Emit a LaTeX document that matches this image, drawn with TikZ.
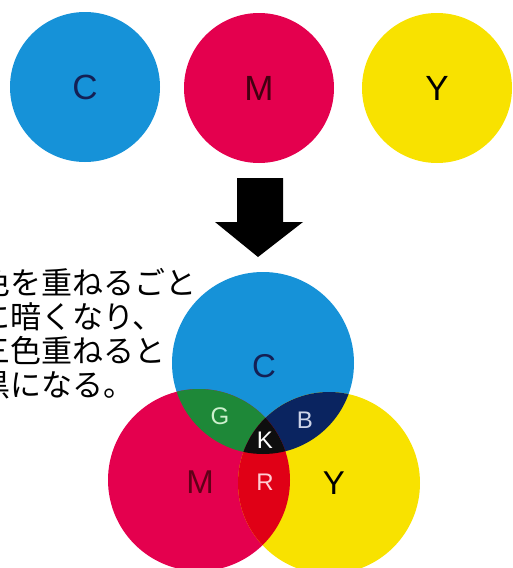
\documentclass[tikz,border=0pt]{standalone}
\usepackage{fontspec}
\setmainfont{Liberation Sans}
\newfontfamily\jpfont{Noto Sans CJK JP}
\definecolor{cyanC}{RGB}{22,146,216}
\definecolor{magC}{RGB}{228,0,78}
\definecolor{yelC}{RGB}{248,226,0}
\definecolor{grnC}{RGB}{30,136,56}
\definecolor{navC}{RGB}{10,36,96}
\definecolor{redC}{RGB}{224,0,22}
\definecolor{blkC}{RGB}{14,14,14}
\definecolor{cTxt}{RGB}{20,32,84}
\definecolor{mTxt}{RGB}{96,0,24}
\definecolor{gTxt}{RGB}{205,240,205}
\definecolor{bTxt}{RGB}{205,212,232}
\definecolor{rTxt}{RGB}{255,205,210}
\begin{document}
\begin{tikzpicture}[x=1pt,y=-1pt,
  disc/.style={circle,inner sep=0pt,minimum size=150pt},
  vdisc/.style={circle,inner sep=0pt,minimum size=182pt},
  biglbl/.style={font=\fontsize{35}{35}\selectfont},
  vlbl/.style={inner sep=0pt,font=\fontsize{33}{33}\selectfont},
  smlbl/.style={inner sep=0pt,font=\fontsize{24}{24}\selectfont},
  jpline/.style={anchor=base west,inner sep=0pt,font=\jpfont\fontsize{31}{31}\selectfont}]
\useasboundingbox (0,0) rectangle (512,568);
\clip (0,0) rectangle (512,568);
% top circles
\node[disc,fill=cyanC,biglbl,text=cTxt] (tc) at (85,87) {C};
\node[disc,fill=magC,biglbl,text=mTxt!70!black] (tm) at (259,88) {M};
\node[disc,fill=yelC,biglbl,text=black] (ty) at (437,88) {Y};
% arrow
\fill[black] (237,178) -- (283,178) -- (283,222) -- (303,222) -- (258,257)
  -- (215,222) -- (237,222) -- cycle;
% text
\node[jpline] (t1) at (-21,294) {色を重ねるごと};
\node[jpline] (t2) at (-21,328) {に暗くなり、};
\node[jpline] (t3) at (-21,362) {三色重ねると};
\node[jpline] (t4) at (-21,396) {黒になる。};
% venn circles
\node[vdisc,fill=cyanC] (vc) at (263,363) {};
\node[vdisc,fill=magC] (vm) at (199,480) {};
\node[vdisc,fill=yelC] (vy) at (329,483) {};
\begin{scope}
  \clip (vc.center) circle [radius=91pt];
  \fill[grnC] (vm.center) circle [radius=91pt];
  \fill[navC] (vy.center) circle [radius=91pt];
\end{scope}
\begin{scope}
  \clip (vm.center) circle [radius=91pt];
  \fill[redC] (vy.center) circle [radius=91pt];
  \clip (vy.center) circle [radius=91pt];
  \fill[blkC] (vc.center) circle [radius=91pt];
\end{scope}
% labels
\node[vlbl,text=cTxt] (lc) at (264,366) {C};
\node[vlbl,text=mTxt] (lm) at (200,482) {M};
\node[vlbl,text=black] (ly) at (334,483) {Y};
\node[smlbl,text=gTxt] (lg) at (220,416) {G};
\node[smlbl,text=bTxt] (lb) at (305,420) {B};
\node[smlbl,text=white] (lk) at (265,440) {K};
\node[smlbl,text=rTxt] (lr) at (265,482) {R};
\end{tikzpicture}
\end{document}
